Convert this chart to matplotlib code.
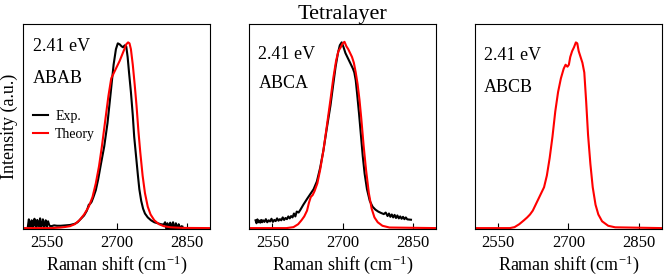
#!/usr/bin/env python3
import matplotlib
matplotlib.use('Agg')
import matplotlib.pyplot as plt

plt.rc('font', **{'family': 'serif', 'serif': ['Liberation Serif', 'DejaVu Serif'], 'size': 12})
plt.rc('mathtext', fontset='stix')

# panel 1, ABAB: experiment (black) and theory (red)
x1_exp = [2510, 2512, 2514, 2516, 2518, 2520, 2522, 2524, 2526, 2528,
          2530, 2532, 2534, 2536, 2538, 2540, 2542, 2544, 2546, 2548,
          2550, 2553, 2556, 2560, 2566, 2572, 2580, 2590, 2600, 2610,
          2616, 2622, 2630, 2636, 2640, 2643, 2646, 2650, 2655, 2660,
          2666, 2673, 2680, 2687, 2693, 2698, 2702, 2706, 2710, 2713,
          2717, 2720, 2723, 2726, 2730, 2734, 2737, 2741, 2745, 2748,
          2752, 2756, 2760, 2766, 2773, 2780, 2787, 2794, 2800, 2803,
          2806, 2808, 2810, 2812, 2814, 2816, 2818, 2820, 2822, 2824,
          2826, 2828, 2830, 2832, 2834, 2836, 2838, 2840]
y1_exp = [0.010, 0.045, 0.008, 0.012, 0.040, 0.005, 0.015, 0.048, 0.010, 0.006,
          0.042, 0.012, 0.010, 0.050, 0.008, 0.014, 0.045, 0.006, 0.012, 0.040,
          0.010, 0.035, 0.012, 0.010, 0.014, 0.012, 0.012, 0.014, 0.016, 0.022,
          0.030, 0.045, 0.065, 0.090, 0.120, 0.125, 0.135, 0.160, 0.195, 0.250,
          0.330, 0.420, 0.540, 0.700, 0.840, 0.920, 0.950, 0.945, 0.935, 0.930,
          0.940, 0.935, 0.880, 0.800, 0.700, 0.580, 0.470, 0.370, 0.270, 0.200,
          0.140, 0.100, 0.075, 0.055, 0.040, 0.030, 0.025, 0.020, 0.018, 0.030,
          -0.010, 0.025, 0.005, -0.020, 0.028, 0.010, -0.015, 0.030, 0.008, -0.020,
          0.025, 0.005, -0.012, 0.020, 0.006, -0.018, 0.010, 0.008]
x1_th = [2500, 2560, 2580, 2590, 2600, 2610, 2620, 2630, 2640, 2648,
         2655, 2662, 2668, 2675, 2682, 2688, 2694, 2700, 2706, 2711,
         2716, 2720, 2724, 2727, 2730, 2734, 2738, 2742, 2746, 2750,
         2755, 2760, 2766, 2772, 2780, 2790, 2800, 2815, 2840, 2900]
y1_th = [0.000, 0.000, 0.003, 0.006, 0.010, 0.020, 0.040, 0.070, 0.110, 0.160,
         0.230, 0.320, 0.420, 0.550, 0.680, 0.770, 0.800, 0.830, 0.860, 0.890,
         0.920, 0.945, 0.955, 0.950, 0.920, 0.840, 0.740, 0.630, 0.500, 0.390,
         0.270, 0.180, 0.110, 0.070, 0.040, 0.020, 0.010, 0.004, 0.001, 0.000]

# panel 2, ABCA
x2_exp = [2514, 2516, 2518, 2520, 2522, 2524, 2526, 2528, 2530, 2533,
          2536, 2539, 2542, 2545, 2548, 2551, 2554, 2557, 2560, 2563,
          2566, 2569, 2572, 2575, 2578, 2581, 2584, 2587, 2590, 2593,
          2596, 2599, 2602, 2606, 2610, 2616, 2624, 2631, 2638, 2645,
          2652, 2659, 2666, 2674, 2680, 2685, 2690, 2694, 2698, 2702,
          2706, 2710, 2714, 2718, 2722, 2725, 2728, 2731, 2735, 2739,
          2743, 2747, 2752, 2758, 2764, 2770, 2776, 2782, 2788, 2792,
          2796, 2799, 2802, 2805, 2808, 2811, 2814, 2817, 2820, 2823,
          2826, 2829, 2832, 2835, 2838, 2842, 2846]
y2_exp = [0.040, 0.025, 0.045, 0.030, 0.038, 0.028, 0.042, 0.030, 0.040, 0.032,
          0.046, 0.030, 0.040, 0.034, 0.048, 0.032, 0.042, 0.036, 0.050, 0.038,
          0.046, 0.040, 0.055, 0.042, 0.052, 0.046, 0.060, 0.050, 0.062, 0.055,
          0.075, 0.060, 0.085, 0.080, 0.095, 0.120, 0.150, 0.175, 0.200, 0.240,
          0.310, 0.400, 0.510, 0.630, 0.740, 0.830, 0.900, 0.940, 0.955, 0.930,
          0.900, 0.880, 0.860, 0.840, 0.820, 0.800, 0.760, 0.690, 0.590, 0.480,
          0.370, 0.280, 0.200, 0.140, 0.110, 0.095, 0.085, 0.078, 0.072, 0.080,
          0.062, 0.075, 0.058, 0.070, 0.055, 0.068, 0.052, 0.065, 0.050, 0.060,
          0.048, 0.058, 0.046, 0.055, 0.045, 0.044, 0.043]
x2_th = [2500, 2580, 2595, 2605, 2612, 2618, 2624, 2628, 2632, 2636,
         2640, 2646, 2652, 2659, 2666, 2674, 2680, 2686, 2691, 2696,
         2700, 2704, 2708, 2712, 2716, 2720, 2724, 2728, 2732, 2736,
         2740, 2745, 2750, 2756, 2762, 2768, 2775, 2785, 2800, 2900]
y2_th = [0.000, 0.000, 0.005, 0.020, 0.040, 0.060, 0.090, 0.130, 0.160, 0.170,
         0.190, 0.230, 0.300, 0.400, 0.520, 0.660, 0.770, 0.860, 0.910, 0.930,
         0.950, 0.958, 0.935, 0.920, 0.900, 0.880, 0.850, 0.800, 0.740, 0.660,
         0.560, 0.420, 0.300, 0.180, 0.100, 0.055, 0.030, 0.012, 0.003, 0.000]

# panel 3, ABCB (theory only)
x3_th = [2500, 2575, 2585, 2595, 2605, 2612, 2618, 2624, 2630, 2636,
         2642, 2648, 2654, 2660, 2666, 2672, 2678, 2684, 2690, 2694,
         2698, 2701, 2704, 2708, 2712, 2716, 2719, 2722, 2726, 2730,
         2734, 2738, 2742, 2747, 2752, 2758, 2764, 2772, 2785, 2800, 2900]
y3_th = [0.000, 0.000, 0.005, 0.020, 0.040, 0.055, 0.070, 0.090, 0.120, 0.150,
         0.180, 0.210, 0.270, 0.360, 0.470, 0.600, 0.700, 0.770, 0.820, 0.840,
         0.830, 0.840, 0.880, 0.910, 0.930, 0.955, 0.950, 0.910, 0.880, 0.850,
         0.800, 0.650, 0.480, 0.330, 0.210, 0.120, 0.070, 0.035, 0.012, 0.004, 0.000]

stackings = ['ABAB', 'ABCA', 'ABCB']
energy = '2.41 eV'
xticks = [2550, 2700, 2850]

fig = plt.figure(figsize=(6.64, 2.78), dpi=100)
lefts = [0.035, 0.375, 0.715]
axes = [fig.add_axes([l, 0.176, 0.282, 0.738]) for l in lefts]

lw = 1.5
axes[0].plot(x1_exp, y1_exp, color='black', lw=lw, label='Exp.')
axes[0].plot(x1_th, y1_th, color='red', lw=lw, label='Theory')
axes[1].plot(x2_exp, y2_exp, color='black', lw=lw)
axes[1].plot(x2_th, y2_th, color='red', lw=lw)
axes[2].plot(x3_th, y3_th, color='red', lw=lw)

text_y = [(0.89, 0.735), (0.85, 0.71), (0.845, 0.69)]
for ax, name, (ty1, ty2) in zip(axes, stackings, text_y):
    ax.set_xlim(2500, 2900)
    ax.set_ylim(-0.005, 1.05)
    ax.set_xticks(xticks)
    ax.set_yticks([])
    ax.tick_params(axis='x', direction='in', length=4, width=0.8, labelsize=12, pad=4)
    ax.set_xlabel(r'Raman shift (cm$^{\mathregular{-1}}$)', fontsize=13, labelpad=2)
    for s in ax.spines.values():
        s.set_linewidth(0.8)
    ax.text(0.05, ty1, energy, transform=ax.transAxes, fontsize=13, va='center')
    ax.text(0.05, ty2, name, transform=ax.transAxes, fontsize=13, va='center')

axes[0].legend(loc='upper left', bbox_to_anchor=(-0.015, 0.64), frameon=False,
               fontsize=10, handlelength=1.1, handletextpad=0.5, labelspacing=0.35)
axes[1].set_title('Tetralayer', fontsize=16, pad=2)
fig.text(0.014, 0.545, 'Intensity (a.u.)', rotation=90, ha='center', va='center', fontsize=13)

fig.savefig('out.png', dpi=100)
